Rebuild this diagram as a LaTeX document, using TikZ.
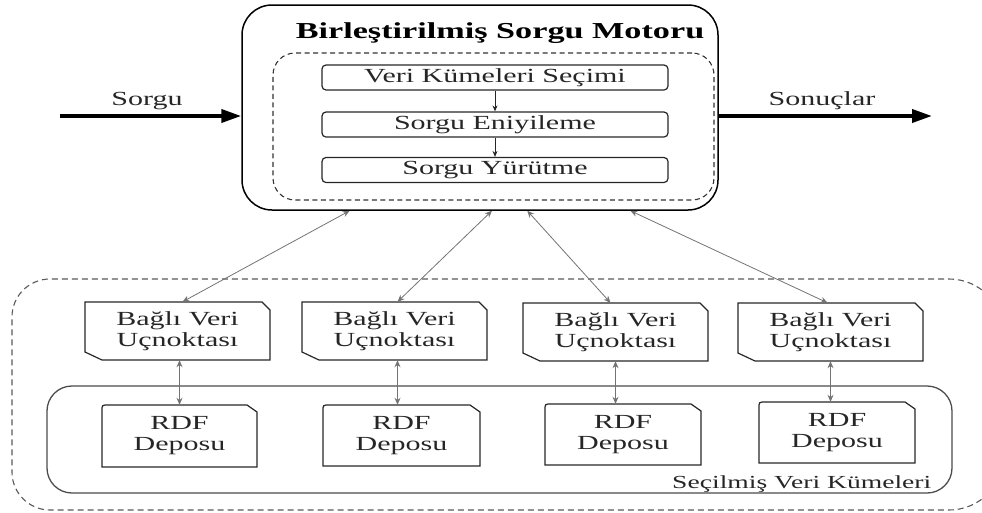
\documentclass[tikz,border=0pt]{standalone}
\usepackage{fontspec}
\setmainfont{Liberation Serif}[FakeStretch=1.5]
\usetikzlibrary{arrows.meta,calc}
\newcommand{\bagbox}[6]{%
  \draw[boxline] (#2,#3) -- (#4-8,#3) -- (#4,#3+8) -- (#4,#5) -- (#2+17,#5) -- (#2,#5-8) -- cycle;
  \node[lbl, minimum width=#4-#2, minimum height=#5-#3] (#1) at ({(#2+#4)/2},{(#3+#5)/2}) {#6};}
\newcommand{\rdfbox}[6]{%
  \draw[boxline] (#2,#5) -- (#2,#3+6) .. controls (#2,#3) .. (#2+6,#3) -- (#4-10,#3) -- (#4,#3+7) -- (#4,#5) -- cycle;
  \node[lbl, minimum width=#4-#2, minimum height=#5-#3] (#1) at ({(#2+#4)/2},{(#3+#5)/2}) {#6};}
\begin{document}
\begin{tikzpicture}[x=1pt,y=-1pt,
  boxline/.style={draw=black!85, line width=1.2pt},
  lbl/.style={inner sep=0pt, align=center, text=black!85, font=\fontsize{20}{20}\selectfont},
  stepbox/.style={draw=black!85, line width=1.2pt, rounded corners=4pt, minimum width=346pt, minimum height=25pt, inner sep=0pt, text=black!85, font=\fontsize{20}{22}\selectfont},
  conn/.style={draw=black!55, line width=0.8pt, {Stealth[length=7pt,width=6pt]}-{Stealth[length=7pt,width=6pt]}},
  small/.style={draw=black!85, line width=0.9pt, -{Stealth[length=6pt,width=5pt]}},
  bigarrow/.style={draw=black, line width=3.8pt, -{Triangle[length=20pt,width=13pt]}}
]
\useasboundingbox (0,0) rectangle (982,512);
% lower federated area
\draw[draw=black!65, line width=1.1pt, dash pattern=on 6pt off 4pt]
  (500,279) [rounded corners=55pt] -- (1004,279) -- (1004,510) [rounded corners=38pt] -- (12,510) -- (12,279) -- cycle;
\node (sel) [draw=black!70, line width=1.3pt, rounded corners=25pt, minimum width=905pt, minimum height=107pt, inner sep=0pt] at (499.5,439.5) {};
\node (sellab) [anchor=south east, inner sep=0.5pt, text=black!85, font=\fontsize{18.4}{20}\selectfont] at (932,493) {Seçilmiş Veri Kümeleri};
% main engine
\node (main) [draw=black, line width=1.5pt, rounded corners=30pt, minimum width=476pt, minimum height=205pt, inner sep=0pt] at (480,107.5) {};
\node (title) [text=black, font=\bfseries\fontsize{22.8}{26}\selectfont] at (500,33) {Birleştirilmiş Sorgu Motoru};
\node (dash) [draw=black!80, line width=1.1pt, dash pattern=on 5pt off 3.5pt, rounded corners=22pt, minimum width=441pt, minimum height=147pt, inner sep=0pt] at (493.5,126.5) {};
\node (s1) [stepbox] at (495,77.5) {Veri Kümeleri Seçimi};
\node (s2) [stepbox] at (495,124.5) {Sorgu Eniyileme};
\node (s3) [stepbox] at (495,170) {Sorgu Yürütme};
\draw[small] (s1.south) -- (s2.north);
\draw[small] (s2.south) -- (s3.north);
% input / output
\coordinate (qin) at (60,116);
\coordinate (qout) at (932,116);
\draw[bigarrow] (qin) -- (qin -| main.west);
\draw[bigarrow] (qout -| main.east) -- (qout);
\node (lin) [text=black!85, font=\fontsize{20}{22}\selectfont] at (147,101) {Sorgu};
\node (lout) [text=black!85, font=\fontsize{20}{22}\selectfont] at (822,101) {Sonuçlar};
% endpoints
\bagbox{b1}{85}{302}{270}{360}{Bağlı Veri\\[1pt]Uçnoktası}
\bagbox{b2}{302}{302}{487}{360}{Bağlı Veri\\[1pt]Uçnoktası}
\bagbox{b3}{523}{303}{708}{361}{Bağlı Veri\\[1pt]Uçnoktası}
\bagbox{b4}{738}{303}{923}{361}{Bağlı Veri\\[1pt]Uçnoktası}
% stores
\rdfbox{r1}{102}{405}{257}{467}{RDF\\[1pt]Deposu}
\rdfbox{r2}{323}{405}{480}{466}{RDF\\[1pt]Deposu}
\rdfbox{r3}{545}{404}{701}{465}{RDF\\[1pt]Deposu}
\rdfbox{r4}{759}{402}{915}{463}{RDF\\[1pt]Deposu}
% connectors
\draw[conn] ($(main.south west)!0.227!(main.south east)$) -- ($(b1.north)+(5pt,0)$);
\draw[conn] ($(main.south west)!0.525!(main.south east)$) -- ($(b2.north)+(3pt,0)$);
\draw[conn] ($(main.south west)!0.599!(main.south east)$) -- ($(b3.north)+(-5pt,0)$);
\draw[conn] ($(main.south west)!0.815!(main.south east)$) -- ($(b4.north)+(-3pt,0)$);
\coordinate (b1s) at ($(b1.south)+(2pt,0)$);
\coordinate (b2s) at ($(b2.south)+(3pt,0)$);
\draw[conn] (b1s) -- (b1s |- r1.north);
\draw[conn] (b2s) -- (b2s |- r2.north);
\draw[conn] (b3.south) -- (b3.south |- r3.north);
\draw[conn] (b4.south) -- (b4.south |- r4.north);
\end{tikzpicture}
\end{document}
